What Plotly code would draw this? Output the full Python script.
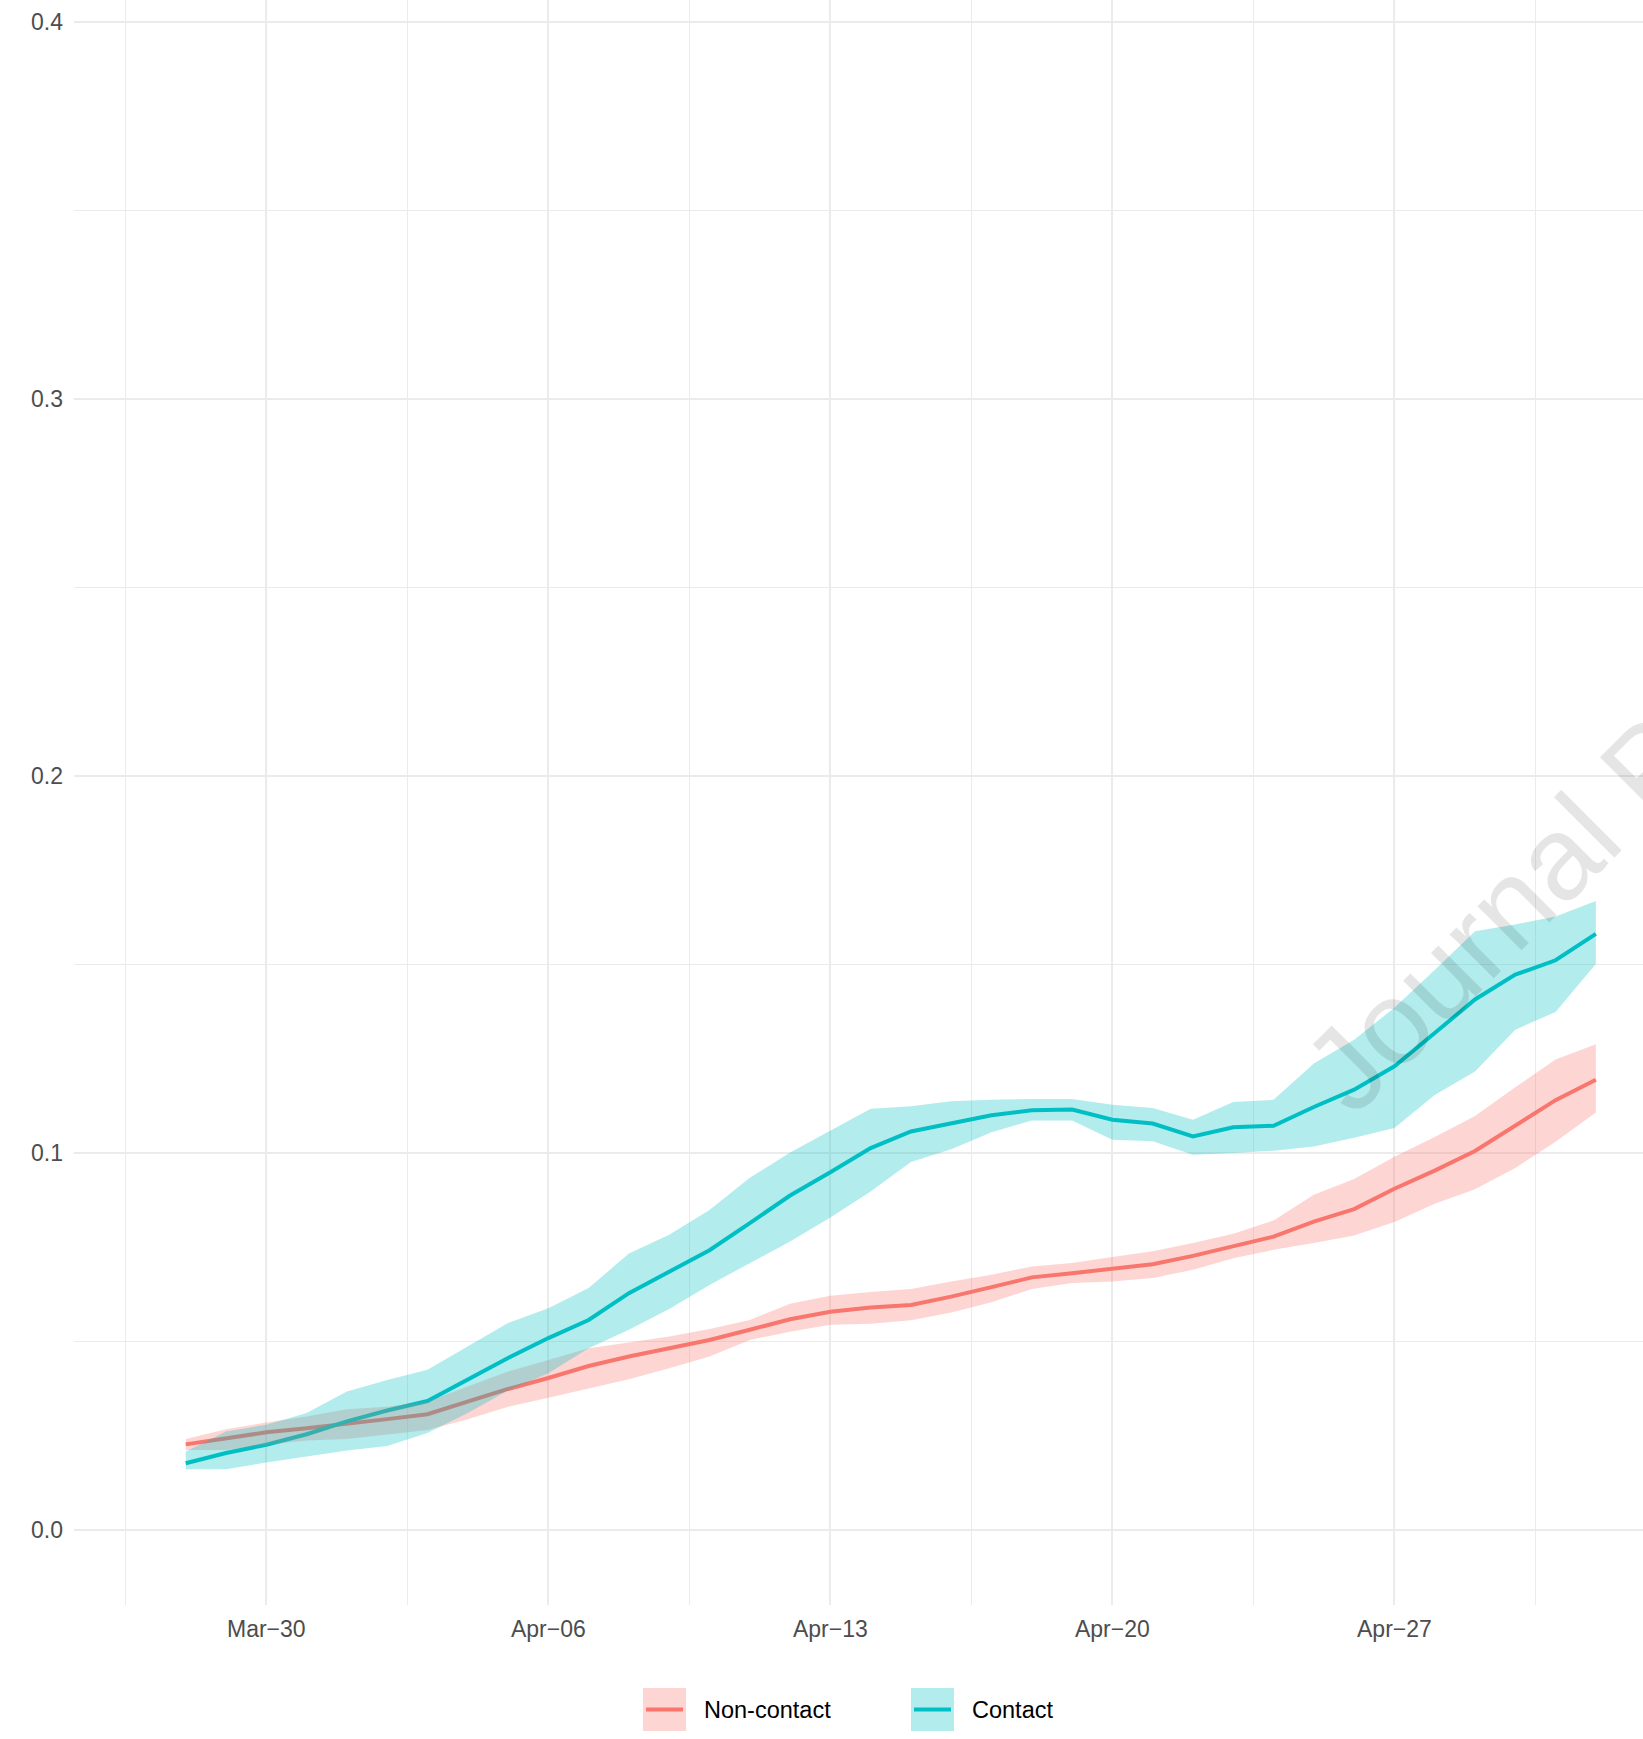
import pandas as pd
import plotly.graph_objects as go

# Daily estimates, 28 Mar - 2 May 2020
dates = pd.date_range("2020-03-28", "2020-05-02", freq="D")

contact_mean = [0.0177, 0.0204, 0.0226, 0.0254, 0.0288, 0.0317, 0.0342, 0.0398, 0.0456,
                0.0509, 0.0557, 0.0628, 0.0686, 0.0742, 0.0814, 0.0887, 0.0949, 0.1013,
                0.1057, 0.1078, 0.1100, 0.1113, 0.1115, 0.1088, 0.1078, 0.1044, 0.1068,
                0.1072, 0.1122, 0.1168, 0.1230, 0.1318, 0.1407, 0.1473, 0.1511, 0.1581]
contact_upper = [0.0208, 0.0261, 0.0279, 0.0310, 0.0367, 0.0398, 0.0425, 0.0487, 0.0549,
                 0.0588, 0.0642, 0.0733, 0.0783, 0.0849, 0.0934, 0.1001, 0.1060, 0.1117,
                 0.1124, 0.1137, 0.1141, 0.1143, 0.1143, 0.1128, 0.1119, 0.1088, 0.1135,
                 0.1141, 0.1237, 0.1300, 0.1385, 0.1485, 0.1588, 0.1606, 0.1627, 0.1668]
contact_lower = [0.0161, 0.0161, 0.0179, 0.0195, 0.0211, 0.0223, 0.0257, 0.0310, 0.0370,
                 0.0416, 0.0482, 0.0531, 0.0586, 0.0650, 0.0708, 0.0765, 0.0829, 0.0898,
                 0.0976, 0.1010, 0.1055, 0.1086, 0.1086, 0.1035, 0.1031, 0.0995, 0.1000,
                 0.1006, 0.1017, 0.1040, 0.1066, 0.1154, 0.1216, 0.1327, 0.1374, 0.1501]

noncontact_mean = [0.0227, 0.0243, 0.0259, 0.0270, 0.0281, 0.0294, 0.0307, 0.0341, 0.0374,
                   0.0403, 0.0435, 0.0460, 0.0482, 0.0504, 0.0531, 0.0559, 0.0579, 0.0590,
                   0.0597, 0.0619, 0.0644, 0.0670, 0.0681, 0.0692, 0.0705, 0.0727, 0.0752,
                   0.0778, 0.0818, 0.0851, 0.0905, 0.0953, 0.1005, 0.1074, 0.1140, 0.1194]
noncontact_upper = [0.0241, 0.0267, 0.0285, 0.0301, 0.0320, 0.0327, 0.0341, 0.0380, 0.0420,
                    0.0451, 0.0482, 0.0497, 0.0513, 0.0533, 0.0557, 0.0600, 0.0621, 0.0631,
                    0.0639, 0.0659, 0.0677, 0.0699, 0.0708, 0.0724, 0.0739, 0.0761, 0.0786,
                    0.0821, 0.0889, 0.0931, 0.0990, 0.1042, 0.1098, 0.1174, 0.1248, 0.1288]
noncontact_lower = [0.0212, 0.0212, 0.0226, 0.0237, 0.0241, 0.0252, 0.0265, 0.0294, 0.0327,
                    0.0351, 0.0376, 0.0400, 0.0429, 0.0460, 0.0504, 0.0526, 0.0544, 0.0547,
                    0.0556, 0.0577, 0.0604, 0.0639, 0.0655, 0.0659, 0.0668, 0.0690, 0.0721,
                    0.0743, 0.0761, 0.0781, 0.0817, 0.0865, 0.0904, 0.0960, 0.1030, 0.1107]

x_tick_vals = ["2020-03-30", "2020-04-06", "2020-04-13", "2020-04-20", "2020-04-27"]
x_tick_text = ["Mar\u221230", "Apr\u221206", "Apr\u221213", "Apr\u221220", "Apr\u221227"]
x_minor_vals = ["2020-03-26 12:00", "2020-04-02 12:00", "2020-04-09 12:00",
                "2020-04-16 12:00", "2020-04-23 12:00", "2020-04-30 12:00"]
y_tick_vals = [0.0, 0.1, 0.2, 0.3, 0.4]
y_tick_text = ["0.0", "0.1", "0.2", "0.3", "0.4"]
y_minor_vals = [0.05, 0.15, 0.25, 0.35]

groups = [
    ("Non-contact", noncontact_mean, noncontact_lower, noncontact_upper, "#F8766D", "rgba(248,118,109,0.3)"),
    ("Contact", contact_mean, contact_lower, contact_upper, "#00BFC4", "rgba(0,191,196,0.3)"),
]

W, H = 1643, 1739
ML, MR, MT, MB = 74, 0, 0, 134
PW, PH = W - ML - MR, H - MT - MB
FONT = "Liberation Sans, Arial, Helvetica, sans-serif"

fig = go.Figure()
# mean lines first, translucent ribbons over them
for name, mean, lo, hi, col, fillcol in groups:
    fig.add_trace(go.Scatter(x=dates, y=mean, mode="lines", name=name,
                             line=dict(color=col, width=4), showlegend=False))
for name, mean, lo, hi, col, fillcol in groups:
    fig.add_trace(go.Scatter(x=dates, y=lo, mode="lines", line=dict(width=0, color=fillcol),
                             showlegend=False, hoverinfo="skip"))
    fig.add_trace(go.Scatter(x=dates, y=hi, mode="lines", line=dict(width=0, color=fillcol),
                             fill="tonexty", fillcolor=fillcol, showlegend=False, hoverinfo="skip"))


def px(xp):
    return (xp - ML) / PW


def py(yp):
    return 1 - (yp - MT) / PH


# legend keys (fill square with line) and labels
shapes = []
annotations = []
for name, x0, tx, col, fillcol in [("Non-contact", 643, 702, "#F8766D", "rgba(248,118,109,0.3)"),
                                   ("Contact", 911, 970, "#00BFC4", "rgba(0,191,196,0.3)")]:
    shapes.append(dict(type="rect", xref="paper", yref="paper",
                       x0=px(x0), x1=px(x0 + 43), y0=py(1688), y1=py(1731),
                       fillcolor=fillcol, line=dict(width=0), layer="above"))
    shapes.append(dict(type="line", xref="paper", yref="paper",
                       x0=px(x0 + 3), x1=px(x0 + 40), y0=py(1709.5), y1=py(1709.5),
                       line=dict(color=col, width=4), layer="above"))
    annotations.append(dict(text=name, xref="paper", yref="paper", x=px(tx), y=py(1709.5),
                            xanchor="left", yanchor="middle", showarrow=False,
                            font=dict(family=FONT, size=23.5, color="black")))

# diagonal watermark
annotations.append(dict(text="Journal Pre-proof", xref="paper", yref="paper",
                        x=px(1647), y=py(767), xanchor="center", yanchor="middle",
                        textangle=-45, showarrow=False,
                        font=dict(family=FONT, size=118, color="rgba(0,0,0,0.1)")))

fig.update_layout(
    width=W, height=H,
    margin=dict(l=ML, r=MR, t=MT, b=MB, pad=0),
    paper_bgcolor="white", plot_bgcolor="white",
    showlegend=False,
    shapes=shapes,
    annotations=annotations,
    xaxis=dict(
        type="date",
        range=["2020-03-25 05:26", "2020-05-03 04:05"],
        tickmode="array", tickvals=x_tick_vals, ticktext=x_tick_text,
        tickfont=dict(family=FONT, size=23, color="#4D4D4D"),
        ticks="", showline=False, zeroline=False,
        showgrid=True, gridcolor="#EBEBEB", gridwidth=2.2,
        minor=dict(tickmode="array", tickvals=x_minor_vals, showgrid=True,
                   gridcolor="#EBEBEB", gridwidth=1.1, ticks=""),
        ticklabelstandoff=8,
        fixedrange=True,
    ),
    yaxis=dict(
        range=[-0.0199, 0.4058],
        tickmode="array", tickvals=y_tick_vals, ticktext=y_tick_text,
        tickfont=dict(family=FONT, size=23, color="#4D4D4D"),
        ticks="", showline=False, zeroline=False,
        showgrid=True, gridcolor="#EBEBEB", gridwidth=2.2,
        minor=dict(tickmode="array", tickvals=y_minor_vals, showgrid=True,
                   gridcolor="#EBEBEB", gridwidth=1.1, ticks=""),
        ticklabelstandoff=10,
        fixedrange=True,
    ),
)

fig.write_html("out.html")
